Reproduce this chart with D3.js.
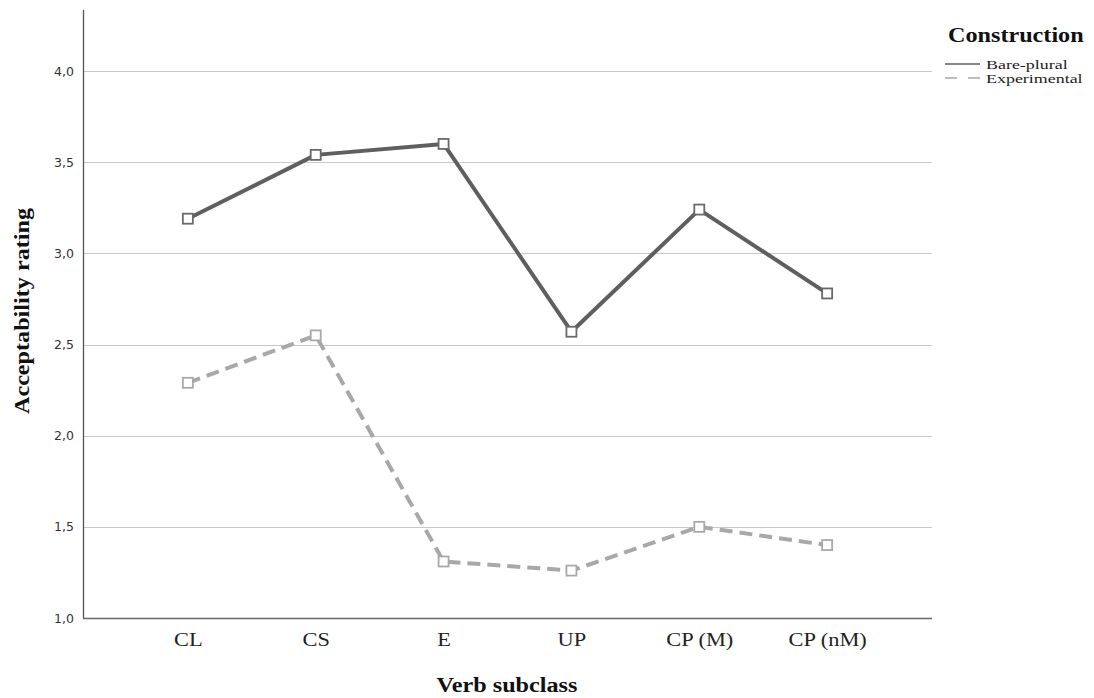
<!DOCTYPE html>
<html><head><meta charset="utf-8">
<script src="https://cdn.jsdelivr.net/npm/d3@7"></script>
<style>body{margin:0;background:#fff}</style>
</head><body>
<svg id="c" width="1094" height="698"></svg>
<script>
const categories = ["CL","CS","E","UP","CP (M)","CP (nM)"];
const barePlural = [3.19,3.54,3.60,2.57,3.24,2.78];
const experimental = [2.29,2.55,1.31,1.26,1.50,1.40];
const yTicks = [1.0,1.5,2.0,2.5,3.0,3.5,4.0];
const seriesNames = ["Bare-plural","Experimental"];

const svg = d3.select("#c");
const mLeft = 83, mRight = 932, mTop = 10, mBottom = 618;
const stretch = 1.18;
const serif = "Liberation Serif";
const x = d3.scalePoint().domain(categories).range([mLeft, mRight]).padding(0.82);
const y = d3.scaleLinear().domain([1.0, 4.0]).range([mBottom, 71]);

// stretched text helper
function sText(px, py, str, size, opts = {}) {
  const k = opts.stretch || stretch;
  const t = svg.append("text")
    .attr("transform", `translate(${px},${py})${opts.rotate ? " rotate(" + opts.rotate + ")" : ""} scale(${k},1)`)
    .attr("font-family", serif).attr("font-size", size)
    .attr("fill", opts.fill || "#111")
    .attr("text-anchor", opts.anchor || "start")
    .text(str);
  if (opts.bold) t.attr("font-weight", "bold");
  return t;
}

// gridlines
svg.append("g").selectAll("line").data(yTicks.slice(1)).join("line")
  .attr("x1", mLeft).attr("x2", mRight)
  .attr("y1", d => Math.round(y(d))+0.5).attr("y2", d => Math.round(y(d))+0.5)
  .attr("stroke", "#c8c8c8").attr("stroke-width", 1.2);

// y axis
const yAxis = d3.axisLeft(y).tickValues(yTicks).tickSize(0).tickPadding(9)
  .tickFormat(d => d3.format(".1f")(d).replace(".", ","));
const gy = svg.append("g").attr("transform", `translate(${mLeft},0)`).call(yAxis);
gy.select(".domain").remove();
gy.selectAll("text").attr("font-family", "DejaVu Sans").attr("font-size", 12.5).attr("fill", "#333");
svg.append("line").attr("x1", mLeft+0.5).attr("x2", mLeft+0.5).attr("y1", mTop).attr("y2", mBottom)
  .attr("stroke", "#555").attr("stroke-width", 1.3);

// x axis
const xAxis = d3.axisBottom(x).tickSize(0).tickPadding(15);
const gx = svg.append("g").attr("transform", `translate(0,${mBottom})`).call(xAxis);
gx.select(".domain").remove();
gx.selectAll("text").attr("font-family", serif).attr("font-size", 19).attr("fill", "#222")
  .attr("transform", `scale(${stretch},1)`);
svg.append("line").attr("x1", mLeft).attr("x2", mRight).attr("y1", mBottom+0.5).attr("y2", mBottom+0.5)
  .attr("stroke", "#666").attr("stroke-width", 1.3);

// axis titles
sText(507, 692, "Verb subclass", 20.5, {bold: true, anchor: "middle"});
sText(29, 311, "Acceptability rating", 20.5, {bold: true, anchor: "middle", rotate: -90});

const line = d3.line().x((d,i) => x(categories[i])).y(d => y(d));
const series = [
  {name: seriesNames[0], values: barePlural, color: "#5f5f5f", marker: "#6a6a6a", dash: null},
  {name: seriesNames[1], values: experimental, color: "#a8a8a8", marker: "#a8a8a8", dash: "13,7"}
];
series.forEach(s => {
  svg.append("path").datum(s.values).attr("d", line).attr("fill", "none")
    .attr("stroke", s.color).attr("stroke-width", 4).attr("stroke-dasharray", s.dash)
    .attr("stroke-linejoin", "round");
});
series.forEach(s => {
  svg.append("g").selectAll("rect").data(s.values).join("rect")
    .attr("x", (d,i) => x(categories[i]) - 5).attr("y", d => y(d) - 5)
    .attr("width", 10).attr("height", 10).attr("fill", "#fff")
    .attr("stroke", s.marker).attr("stroke-width", 1.8);
});

// legend
sText(948, 42, "Construction", 20.5, {bold: true});
series.forEach((s, i) => {
  const ly = 64 + i*14;
  svg.append("line").attr("x1", 945).attr("x2", 980).attr("y1", ly).attr("y2", ly)
    .attr("stroke", s.color).attr("stroke-width", 1.3).attr("stroke-dasharray", s.dash ? "12,11" : null);
  sText(986, ly + 4.5, s.name, 13, {fill: "#222", stretch: 1.38});
});
</script>
</body></html>
